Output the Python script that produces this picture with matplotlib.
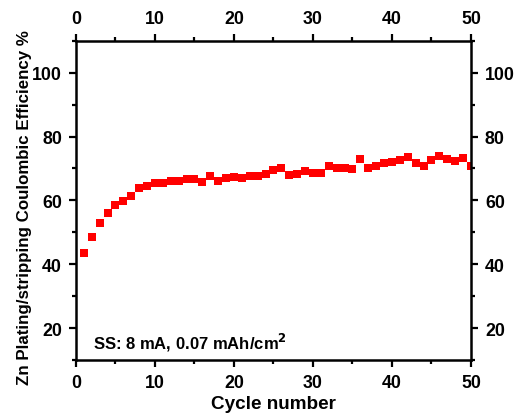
import matplotlib

matplotlib.use("Agg")

import matplotlib.pyplot as plt  # noqa: E402
from matplotlib.ticker import MultipleLocator  # noqa: E402

cycles = list(range(1, 51))
efficiency = [
    43.6, 48.6, 52.9, 56.1, 58.5, 59.9, 61.5, 63.9, 64.6, 65.3,
    65.6, 66.1, 66.1, 66.6, 66.6, 65.8, 67.8, 66.1, 66.9, 67.2,
    67.1, 67.5, 67.5, 68.2, 69.6, 70.2, 67.9, 68.2, 69.2, 68.6,
    68.6, 70.9, 70.2, 70.2, 69.8, 72.9, 70.2, 70.9, 71.6, 72.0,
    72.6, 73.6, 71.6, 70.9, 72.6, 74.0, 72.9, 72.2, 73.3, 70.8,
]

plt.rcParams["font.family"] = ["Liberation Sans", "DejaVu Sans"]
plt.rcParams["font.weight"] = "bold"
plt.rcParams["mathtext.default"] = "bf"

fig = plt.figure(figsize=(5.17, 4.14), dpi=100)
ax = fig.add_axes([0.147, 0.128, 0.764, 0.771])

ax.plot(cycles, efficiency, linestyle="none", marker="s", markersize=5.2,
        color="#ff0000", markeredgewidth=0)

ax.set_xlim(0, 50)
ax.set_ylim(10, 110)
ax.xaxis.set_major_locator(MultipleLocator(10))
ax.xaxis.set_minor_locator(MultipleLocator(5))
ax.yaxis.set_minor_locator(MultipleLocator(10))
ax.set_yticks([20, 40, 60, 80, 100])

for side in ax.spines.values():
    side.set_linewidth(1.8)

ax.tick_params(which="both", direction="out", width=1.6,
               top=True, right=True, labeltop=True, labelright=True,
               labelsize=12.8, pad=5)
ax.tick_params(which="major", length=5)
ax.tick_params(which="minor", length=3)
for axis in (ax.xaxis, ax.yaxis):
    for tick in axis.get_major_ticks():
        tick.label1.set_fontweight("bold")
        tick.label2.set_fontweight("bold")

ax.set_xlabel("Cycle number", fontsize=13.6, fontweight="bold", labelpad=3)
ax.set_ylabel("Zn Plating/stripping Coulombic Efficiency %", fontsize=12.2,
              fontweight="bold", labelpad=0, y=0.48)

ax.text(2.1, 15.8, "SS: 8 mA, 0.07 mAh/cm$^{2}$", fontsize=12,
        fontweight="bold", va="center", ha="left")

fig.savefig("out.png", dpi=100)
plt.close(fig)
